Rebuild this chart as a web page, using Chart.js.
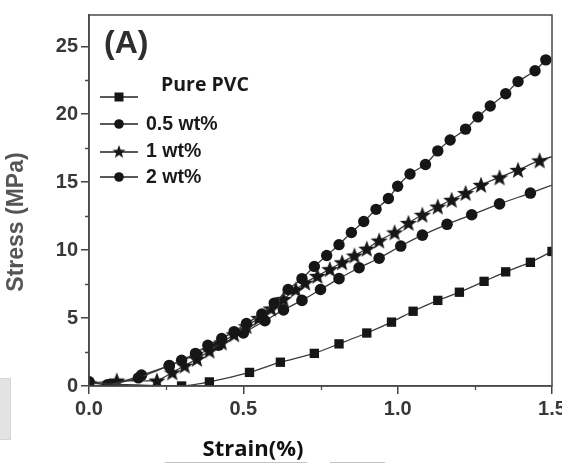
<!DOCTYPE html>
<html>
<head>
<meta charset="utf-8">
<script src="https://cdn.jsdelivr.net/npm/chart.js@4.4.0/dist/chart.umd.min.js"></script>
<style>
    body { margin: 0; background: #fff; }
    #wrap { position: relative; width: 562px; height: 464px; overflow: hidden; }
    #chart { position: absolute; left: 0; top: 0; }
    .ytitle {
        position: absolute; left: 15px; top: 222px;
        transform: translate(-50%, -50%) rotate(-90deg);
        font: bold 23px "Liberation Sans", Arial, sans-serif; color: #555; white-space: nowrap;
    }
    .xtitle {
        position: absolute; left: 253px; top: 447px;
        transform: translate(-50%, -50%);
        font: bold 22px "Open Sans", sans-serif; color: #111; white-space: nowrap;
    }
    .tag { position: absolute; left: 104px; top: 24px; font: bold 32px "Liberation Sans", Arial, sans-serif; color: #2e2e2e; }
    .smudge { position: absolute; left: 0; top: 378px; width: 10px; height: 60px; background: #e3e3e3; border: 1px solid #d6d6d6; border-left: 0; }
    .rule { position: absolute; height: 1px; background: #c4c4c4; top: 462px; }
</style>
</head>
<body>
<div id="wrap">
    <canvas id="chart" width="562" height="464"></canvas>
    <div class="tag">(A)</div>
    <div class="ytitle">Stress (MPa)</div>
    <div class="xtitle">Strain(%)</div>
    <div class="smudge"></div>
    <div class="rule" style="left:165px; width:142px"></div>
    <div class="rule" style="left:330px; width:55px"></div>
</div>
<script>
'use strict';

// данные
const seriesNames = ['Pure PVC', '0.5 wt%', '1 wt%', '2 wt%'];

const pvcX = [0.00, 0.30, 0.39, 0.52, 0.62, 0.73, 0.81, 0.90, 0.98, 1.05, 1.13, 1.20, 1.28, 1.35, 1.43, 1.50];
const pvcY = [0.2, 0.0, 0.3, 1.0, 1.75, 2.4, 3.1, 3.9, 4.7, 5.5, 6.3, 6.9, 7.7, 8.4, 9.1, 9.9];

const wt05X = [0.00, 0.06, 0.16, 0.26, 0.30, 0.345, 0.385, 0.43, 0.47, 0.51, 0.56, 0.60, 0.645, 0.69, 0.73, 0.77, 0.81,
    0.85, 0.89, 0.93, 0.97, 1.00, 1.04, 1.09, 1.13, 1.17, 1.22, 1.26, 1.30, 1.35, 1.39, 1.445, 1.48];
const wt05Y = [0.3, 0.1, 0.6, 1.5, 1.9, 2.4, 3.0, 3.5, 4.0, 4.6, 5.3, 6.1, 7.1, 7.9, 8.8, 9.6, 10.4,
    11.3, 12.1, 13.0, 13.8, 14.7, 15.6, 16.3, 17.3, 18.1, 18.9, 19.8, 20.6, 21.5, 22.4, 23.2, 24.0];

const wt1X = [0.00, 0.09, 0.22, 0.27, 0.31, 0.35, 0.39, 0.43, 0.47, 0.51, 0.55, 0.59, 0.63, 0.67, 0.70, 0.74,
    0.78, 0.82, 0.86, 0.90, 0.94, 0.99, 1.035, 1.08, 1.13, 1.175, 1.22, 1.27, 1.33, 1.39, 1.46, 1.52];
const wt1Y = [0.2, 0.4, 0.4, 1.0, 1.5, 2.0, 2.6, 3.2, 3.8, 4.4, 5.0, 5.7, 6.4, 7.1, 7.6, 8.1,
    8.6, 9.1, 9.6, 10.1, 10.7, 11.3, 12.0, 12.6, 13.2, 13.7, 14.2, 14.8, 15.35, 15.9, 16.6, 17.0];

const wt2X = [0.00, 0.07, 0.17, 0.26, 0.35, 0.42, 0.50, 0.57, 0.63, 0.69, 0.75, 0.81, 0.875, 0.94, 1.01, 1.08, 1.16, 1.24, 1.33, 1.43, 1.52];
const wt2Y = [0.3, 0.1, 0.8, 1.5, 2.3, 3.0, 3.9, 4.8, 5.6, 6.3, 7.1, 7.9, 8.7, 9.4, 10.3, 11.1, 11.9, 12.6, 13.4, 14.2, 14.95];

const xTicks = [0, 0.5, 1.0, 1.5];
const xMinor = [0.25, 0.75, 1.25];
const yMinor = [2.5, 7.5, 12.5, 17.5, 22.5];


// залитая пятиконечная звезда (в Chart.js 'star' — это просто крестики)
function makeStar(size) {
    const c = document.createElement('canvas');
    c.width = size; c.height = size;
    const ctx = c.getContext('2d');
    const cx = size / 2, cy = size / 2 + size * 0.04;
    const R = size / 2, r = R * 0.42;
    ctx.beginPath();
    for (let i = 0; i < 10; i++) {
        const rad = i % 2 === 0 ? R : r;
        const a = -Math.PI / 2 + i * Math.PI / 5;
        ctx.lineTo(cx + rad * Math.cos(a), cy + rad * Math.sin(a));
    }
    ctx.closePath();
    ctx.fillStyle = '#161616';
    ctx.fill();
    return c;
}

const starBig = makeStar(18);
const starSmall = makeStar(14);

const zip = (xs, ys) => xs.map((x, i) => ({ x, y: ys[i] }));

const lineColor = '#3a3a3a';
const markColor = '#161616';

function ds(label, xs, ys, style, radius) {
    return {
        label,
        data: zip(xs, ys),
        borderColor: lineColor,
        borderWidth: 1.3,
        backgroundColor: markColor,
        pointBackgroundColor: markColor,
        pointBorderColor: markColor,
        pointBorderWidth: 0,
        pointStyle: style,
        pointRadius: radius,
        tension: 0.2,
        fill: false
    };
}

const datasets = [
    ds(seriesNames[0], pvcX, pvcY, 'rect', 6.6),
    ds(seriesNames[1], wt05X, wt05Y, 'circle', 5.7),
    ds(seriesNames[2], wt1X, wt1Y, starBig, 6),
    ds(seriesNames[3], wt2X, wt2Y, 'circle', 5.8)
];


// рамка, мелкие засечки и легенда
const extras = {
    id: 'extras',
    afterDraw(chart) {
        const ctx = chart.ctx;
        const a = chart.chartArea;
        const sx = chart.scales.x, sy = chart.scales.y;

        ctx.save();
        ctx.strokeStyle = '#4a4a4a';
        ctx.lineWidth = 1.5;
        ctx.strokeRect(a.left, a.top, a.right - a.left, a.bottom - a.top);

        ctx.lineWidth = 1.3;
        ctx.beginPath();
        yMinor.forEach(v => {
            const p = Math.round(sy.getPixelForValue(v)) + 0.5;
            ctx.moveTo(a.left, p); ctx.lineTo(a.left - 4, p);
        });
        xMinor.forEach(v => {
            const p = Math.round(sx.getPixelForValue(v)) + 0.5;
            ctx.moveTo(p, a.bottom); ctx.lineTo(p, a.bottom + 4);
        });
        ctx.stroke();

        // легенда
        const rows = [97, 124, 152, 177];
        const x0 = 100, x1 = 138, xm = 119;
        rows.forEach((y, i) => {
            ctx.strokeStyle = '#222';
            ctx.lineWidth = 1.6;
            ctx.beginPath();
            ctx.moveTo(x0, y); ctx.lineTo(x1, y);
            ctx.stroke();
            ctx.fillStyle = markColor;
            if (i === 0) {
                ctx.fillRect(xm - 4.5, y - 4.5, 9, 9);
            } else if (i === 2) {
                ctx.drawImage(starSmall, xm - 7, y - 7.5);
            } else {
                ctx.beginPath();
                ctx.arc(xm, y, 4.8, 0, Math.PI * 2);
                ctx.fill();
            }
        });
        ctx.fillStyle = '#1a1a1a';
        ctx.textBaseline = 'middle';
        ctx.font = 'bold 19.5px "Open Sans"';
        ctx.fillText(seriesNames[0], 161, 85);
        ctx.font = 'bold 19.5px "Liberation Sans"';
        ctx.fillText(seriesNames[1], 146, 125);
        ctx.fillText(seriesNames[2], 146, 152);
        ctx.fillText(seriesNames[3], 146, 178);
        ctx.restore();
    }
};

const tickFont = { family: '"Liberation Sans", Arial, sans-serif', size: 20, weight: 'bold' };

new Chart(document.getElementById('chart').getContext('2d'), {
    type: 'line',
    data: { datasets },
    options: {
        responsive: false,
        animation: false,
        layout: { padding: { top: 12, right: 10, left: 0, bottom: 0 } },
        plugins: {
            legend: { display: false },
            title: { display: false },
            tooltip: { enabled: false }
        },
        scales: {
            x: {
                type: 'linear',
                min: 0,
                max: 1.5,
                afterBuildTicks: scale => { scale.ticks = xTicks.map(v => ({ value: v })); },
                ticks: {
                    callback: v => v.toFixed(1),
                    font: tickFont,
                    color: '#383838',
                    padding: 3,
                    maxRotation: 0,
                    autoSkip: false
                },
                grid: { drawOnChartArea: false, tickLength: 8, color: '#444', lineWidth: 1.5 },
                border: { color: '#444', width: 1.5 },
                afterFit: scale => { scale.height = 78; scale.paddingRight = 0; scale.paddingLeft = 0; }
            },
            y: {
                min: 0,
                max: 27.3,
                ticks: {
                    stepSize: 5,
                    includeBounds: false,
                    font: tickFont,
                    color: '#383838',
                    padding: 3
                },
                grid: { drawOnChartArea: false, tickLength: 8, color: '#444', lineWidth: 1.5 },
                border: { color: '#444', width: 1.5 },
                afterFit: scale => { scale.width = 89; }
            }
        }
    },
    plugins: [extras]
});
</script>
</body>
</html>
